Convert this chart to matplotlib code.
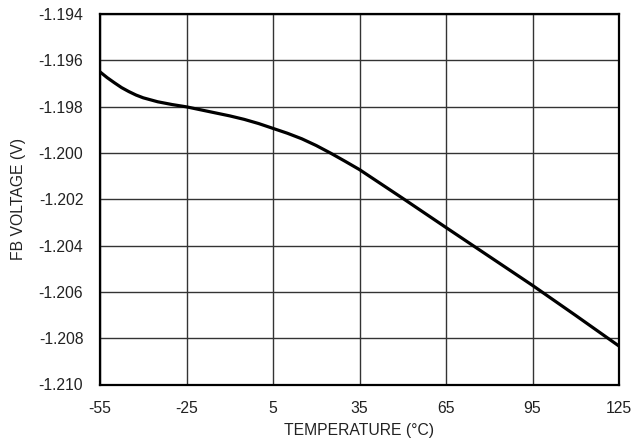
import matplotlib
matplotlib.use("Agg")
import matplotlib.pyplot as plt

temps = [-55, -52.5, -50, -47.5, -45, -42.5, -40, -35, -30, -25, -20, -15, -10, -5, 0, 5, 10, 15, 20, 25, 30, 35, 50, 65, 80, 95, 110, 125]
volts = [-1.19650, -1.19675, -1.19697, -1.19718, -1.19735, -1.19750, -1.19762, -1.19779, -1.19791, -1.19801,
         -1.19814, -1.19827, -1.19840, -1.19855, -1.19873, -1.19894, -1.19915, -1.19939, -1.19968,
         -1.20001, -1.20036, -1.20072, -1.20196, -1.20322, -1.20447, -1.20572, -1.20702, -1.20834]
xticks = [-55, -25, 5, 35, 65, 95, 125]
yticks = [-1.210, -1.208, -1.206, -1.204, -1.202, -1.200, -1.198, -1.196, -1.194]

plt.rcParams['font.family'] = ['Liberation Sans', 'DejaVu Sans']
fig = plt.figure(figsize=(6.34, 4.45), dpi=100)
ax = fig.add_axes([100/634, 1 - 384.5/445, 519/634, 370.5/445])
ax.plot(temps, volts, color='black', lw=2.3, solid_capstyle='butt', solid_joinstyle='round', zorder=3, clip_on=False)
ax.set_xlim(-55, 125)
ax.set_ylim(-1.210, -1.194)
ax.set_xticks(xticks)
ax.set_xticklabels([str(t) for t in xticks])
ax.set_yticks(yticks)
ax.set_yticklabels([f"{v:.3f}" for v in yticks])
ax.grid(True, color='#333333', lw=1.0)
for s in ax.spines.values():
    s.set_linewidth(1.6)
    s.set_color('black')
ax.tick_params(length=0, labelsize=11.3, pad=12, colors='#222222')
ax.set_xlabel('TEMPERATURE (°C)', fontsize=11.3, labelpad=5, color='#222222')
ax.set_ylabel('FB VOLTAGE (V)', fontsize=11.3, labelpad=9, color='#222222')
fig.savefig('out.png', dpi=100)
